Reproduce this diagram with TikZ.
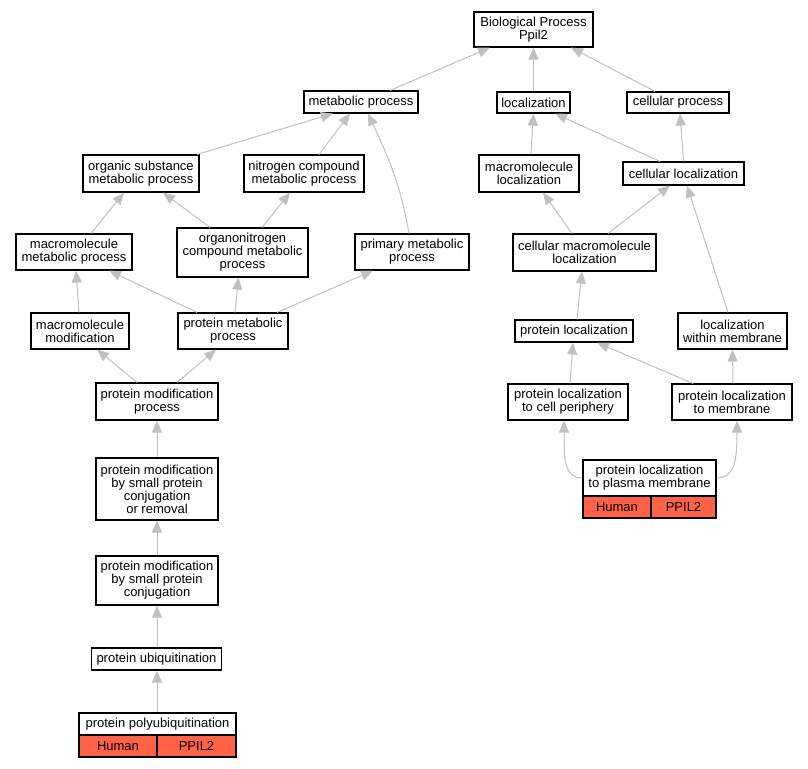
\documentclass[tikz,border=0pt]{standalone}
\usepackage{fontspec}
\setmainfont{Liberation Sans}
\usetikzlibrary{arrows.meta}
\definecolor{edgegray}{HTML}{C0C0C0}
\definecolor{hit}{HTML}{FF6347}
\begin{document}
\begin{tikzpicture}[x=1pt,y=-1pt,
  box/.style={draw=black,line width=1.1pt,fill=white,align=center,inner sep=0pt,
    font=\fontsize{13}{13}\selectfont},
  redbox/.style={box,fill=hit},
  edge/.style={draw=edgegray,line width=1pt,-{Triangle[length=12pt,width=10pt,fill=edgegray]}}]
\useasboundingbox (0,0) rectangle (808,768);
% nodes
\node[box,minimum width=119pt,minimum height=35pt] (bp) at (533.5,29.5) {Biological Process\\Ppil2};
\node[box,minimum width=114pt,minimum height=22pt] (mp) at (361,102) {metabolic process};
\node[box,minimum width=73pt,minimum height=21pt] (loc) at (533.5,102.5) {localization};
\node[box,minimum width=102pt,minimum height=21pt] (cp) at (678,102.5) {cellular process};
\node[box,minimum width=116pt,minimum height=37pt] (org) at (141,173.5) {organic substance\\metabolic process};
\node[box,minimum width=120pt,minimum height=37pt] (nit) at (304,173.5) {nitrogen compound\\metabolic process};
\node[box,minimum width=100pt,minimum height=37pt] (mloc) at (529,173.5) {macromolecule\\localization};
\node[box,minimum width=121pt,minimum height=23pt] (cloc) at (683.5,173.5) {cellular localization};
\node[box,minimum width=116pt,minimum height=36pt] (mmp) at (74,252) {macromolecule\\metabolic process};
\node[box,minimum width=131pt,minimum height=49pt] (onc) at (242.5,252.5) {organonitrogen\\compound metabolic\\process};
\node[box,minimum width=114pt,minimum height=36pt] (pri) at (412,252) {primary metabolic\\process};
\node[box,minimum width=143pt,minimum height=37pt] (cml) at (584.5,252.5) {cellular macromolecule\\localization};
\node[box,minimum width=98pt,minimum height=36pt] (mmod) at (80,331) {macromolecule\\modification};
\node[box,minimum width=110pt,minimum height=36pt] (pmp) at (233,331) {protein metabolic\\process};
\node[box,minimum width=118pt,minimum height=22pt] (ploc) at (574,331) {protein localization};
\node[box,minimum width=109pt,minimum height=36pt] (lwm) at (732.5,331) {localization\\within membrane};
\node[box,minimum width=122pt,minimum height=37pt] (pmod) at (157,401.5) {protein modification\\process};
\node[box,minimum width=120pt,minimum height=36pt] (pcp) at (568,402) {protein localization\\to cell periphery};
\node[box,minimum width=120pt,minimum height=36pt] (pm) at (732,402) {protein localization\\to membrane};
\node[box,minimum width=122pt,minimum height=62pt] (smr) at (157,489) {protein modification\\by small protein\\conjugation\\or removal};
\node[box,minimum width=122pt,minimum height=49pt] (smc) at (157,580.5) {protein modification\\by small protein\\conjugation};
\node[box,minimum width=130pt,minimum height=22pt] (ubq) at (156.5,659) {protein ubiquitination};
\node[box,minimum width=157pt,minimum height=22pt] (poly) at (157.5,724) {protein polyubiquitination};
\node[redbox,minimum width=78pt,minimum height=22pt] (polyh) at (118,746) {Human};
\node[redbox,minimum width=79pt,minimum height=22pt] (polyp) at (196.5,746) {PPIL2};
\node[box,minimum width=133pt,minimum height=36pt] (plasma) at (649.5,478) {protein localization\\to plasma membrane};
\node[redbox,minimum width=68pt,minimum height=22pt] (plasmah) at (617,507) {Human};
\node[redbox,minimum width=65pt,minimum height=22pt] (plasmap) at (683.5,507) {PPIL2};
% edges
\draw[edge] ([xshift=29pt]mp.north) -- ([xshift=-43.5pt]bp.south);
\draw[edge] (loc.north) -- (bp.south);
\draw[edge] ([xshift=-23pt]cp.north) -- ([xshift=37.5pt]bp.south);
\draw[edge] ([xshift=56pt]org.north) -- ([xshift=-28pt]mp.south);
\draw[edge] ([xshift=15pt]nit.north) -- ([xshift=-11pt]mp.south);
\draw[edge] ([xshift=-3pt]pri.north) to[out=100,in=-65] ([xshift=7pt]mp.south);
\draw[edge] ([xshift=2pt]mloc.north) -- (loc.south);
\draw[edge] ([xshift=-23.5pt]cloc.north) -- ([xshift=21.5pt]loc.south);
\draw[edge] (cloc.north) -- ([xshift=2pt]cp.south);
\draw[edge] ([xshift=17pt]mmp.north) -- ([xshift=-17pt]org.south);
\draw[edge] ([xshift=-32.5pt]onc.north) -- ([xshift=22pt]org.south);
\draw[edge] ([xshift=19.5pt]onc.north) -- ([xshift=-14pt]nit.south);
\draw[edge] ([xshift=-1pt]mmod.north) -- ([xshift=2pt]mmp.south);
\draw[edge] ([xshift=-36pt]pmp.north) -- ([xshift=35pt]mmp.south);
\draw[edge] ([xshift=2pt]pmp.north) -- ([xshift=-4pt]onc.south);
\draw[edge] ([xshift=44pt]pmp.north) -- ([xshift=-39pt]pri.south);
\draw[edge] ([xshift=-20pt]pmod.north) -- ([xshift=17pt]mmod.south);
\draw[edge] ([xshift=20pt]pmod.north) -- ([xshift=-17pt]pmp.south);
\draw[edge] (smr.north) -- (pmod.south);
\draw[edge] (smc.north) -- (smr.south);
\draw[edge] ([xshift=0.5pt]ubq.north) -- (smc.south);
\draw[edge] ([xshift=-0.5pt]poly.north) -- ([xshift=0.5pt]ubq.south);
\draw[edge] ([xshift=-12.5pt]cml.north) -- ([xshift=14pt]mloc.south);
\draw[edge] ([xshift=23.5pt]cml.north) -- ([xshift=-13.5pt]cloc.south);
\draw[edge] ([xshift=-4.5pt]lwm.north) -- ([xshift=3.5pt]cloc.south);
\draw[edge] ([xshift=3pt]ploc.north) -- ([xshift=-2.5pt]cml.south);
\draw[edge] ([xshift=2pt]pcp.north) -- ([xshift=-1pt]ploc.south);
\draw[edge] ([xshift=-39pt]pm.north) -- ([xshift=23pt]ploc.south);
\draw[edge] ([xshift=1pt]pm.north) -- (lwm.south);
\draw[edge] (plasma.west) .. controls +(-18,0) and +(0,40) .. ([xshift=-4pt]pcp.south);
\draw[edge] (plasma.east) .. controls +(18,0) and +(0,40) .. ([xshift=5pt]pm.south);
\end{tikzpicture}
\end{document}
